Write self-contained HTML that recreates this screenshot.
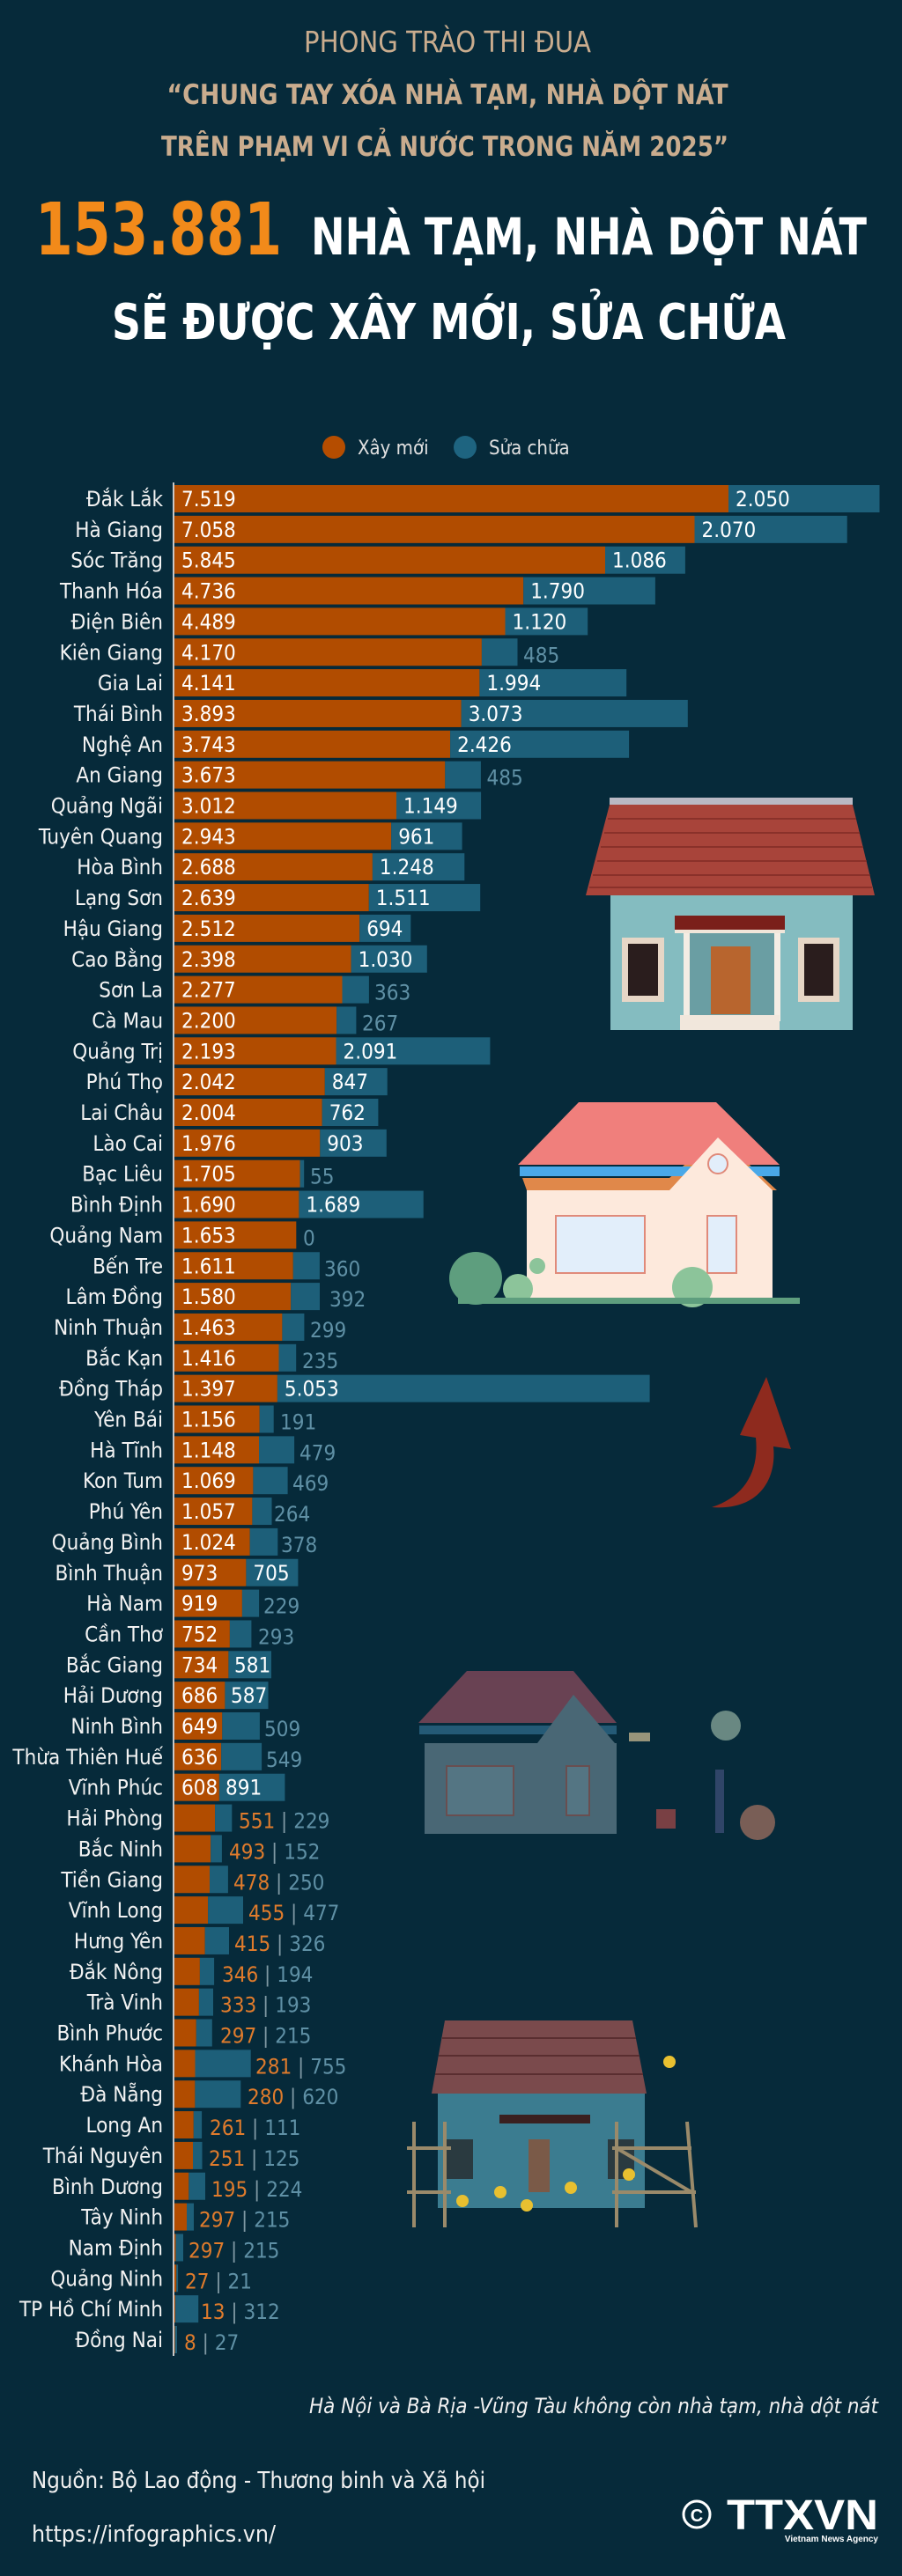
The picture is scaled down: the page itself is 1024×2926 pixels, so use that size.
<!DOCTYPE html>
<html><head><meta charset="utf-8">
<style>
html,body{margin:0;padding:0;background:#062a3a;}
svg{display:block}
.p{font-family:"Liberation Sans Narrow","DejaVu Sans Condensed","Liberation Sans",sans-serif;font-size:24px;fill:#f2f2f2;text-anchor:end}
.w{font-family:"Liberation Sans Narrow","DejaVu Sans Condensed","Liberation Sans",sans-serif;font-size:24px;fill:#ffffff}
.to{font-family:"Liberation Sans Narrow","DejaVu Sans Condensed","Liberation Sans",sans-serif;font-size:24px;fill:#5f90a5}
.ob{font-family:"Liberation Sans Narrow","DejaVu Sans Condensed","Liberation Sans",sans-serif;font-size:24px;fill:#df7b2c}
.sep{fill:#7f98a3}
.tb{fill:#5f90a5}
.o{fill:#b14c00}
.t{fill:#1d5f79}
.h{font-family:"Liberation Sans Narrow","DejaVu Sans Condensed","Liberation Sans",sans-serif}
</style></head>
<body>
<svg width="1024" height="2926" viewBox="0 0 1024 2926" xmlns="http://www.w3.org/2000/svg">
<rect width="1024" height="2926" fill="#062a3a"/>

<!-- Header -->
<text class="h" x="508" y="59" text-anchor="middle" font-size="33" fill="#c9ac8e" textLength="326" lengthAdjust="spacingAndGlyphs">PHONG TRÀO THI ĐUA</text>
<text class="h" x="508" y="118" text-anchor="middle" font-size="31" font-weight="bold" fill="#c9ac8e" textLength="637" lengthAdjust="spacingAndGlyphs">“CHUNG TAY XÓA NHÀ TẠM, NHÀ DỘT NÁT</text>
<text class="h" x="505" y="177" text-anchor="middle" font-size="31" font-weight="bold" fill="#c9ac8e" textLength="644" lengthAdjust="spacingAndGlyphs">TRÊN PHẠM VI CẢ NƯỚC TRONG NĂM 2025”</text>
<text class="h" x="40" y="289" font-size="82" font-weight="bold" fill="#f28a1a" textLength="280" lengthAdjust="spacingAndGlyphs">153.881</text>
<text class="h" x="353" y="289" font-size="58" font-weight="bold" fill="#ffffff" textLength="631" lengthAdjust="spacingAndGlyphs">NHÀ TẠM, NHÀ DỘT NÁT</text>
<text class="h" x="127" y="385" font-size="56" font-weight="bold" fill="#ffffff" textLength="765" lengthAdjust="spacingAndGlyphs">SẼ ĐƯỢC XÂY MỚI, SỬA CHỮA</text>

<!-- Legend -->
<circle cx="379" cy="508" r="13" fill="#b54d00"/>
<text class="h" x="406" y="516" font-size="22" fill="#e0e0e0">Xây mới</text>
<circle cx="528" cy="508" r="13" fill="#1e6480"/>
<text class="h" x="555" y="516" font-size="22" fill="#e0e0e0">Sửa chữa</text>

<!-- Illustrations -->
<!-- House 1 -->
<g>
<rect x="692" y="906" width="276" height="8" fill="#b9b9c4"/>
<polygon points="692,914 968,914 993,1017 665,1017" fill="#a8443a"/>
<g stroke="#7e2a24" stroke-width="2" opacity="0.7">
<line x1="690" y1="930" x2="972" y2="930"/><line x1="686" y1="946" x2="976" y2="946"/>
<line x1="682" y1="962" x2="980" y2="962"/><line x1="678" y1="978" x2="984" y2="978"/>
<line x1="673" y1="994" x2="988" y2="994"/><line x1="669" y1="1008" x2="990" y2="1008"/>
</g>
<rect x="693" y="1017" width="275" height="153" fill="#84bcc0"/>
<rect x="706" y="1065" width="48" height="73" fill="#e6d6c6"/>
<rect x="713" y="1072" width="34" height="59" fill="#2a1d1d"/>
<rect x="906" y="1065" width="47" height="73" fill="#e6d6c6"/>
<rect x="913" y="1072" width="33" height="59" fill="#2a1d1d"/>
<rect x="780" y="1060" width="100" height="100" fill="#6a9ea3"/>
<rect x="766" y="1040" width="125" height="16" fill="#7a1f1a"/>
<rect x="766" y="1056" width="125" height="4" fill="#f0e6da"/>
<rect x="776" y="1060" width="7" height="100" fill="#f4ede4"/>
<rect x="879" y="1060" width="7" height="100" fill="#f4ede4"/>
<rect x="807" y="1075" width="45" height="77" fill="#b8652e"/>
<rect x="772" y="1153" width="113" height="17" fill="#f1e7dc"/>
</g>
<!-- House 2 -->
<g>
<polygon points="593,1338 760,1338 815,1290 882,1352 598,1352" fill="#e0884a"/>
<polygon points="590,1325 885,1325 885,1336 590,1336" fill="#4aa8e8"/>
<polygon points="588,1323 657,1252 813,1252 885,1323" fill="#f07f7c"/>
<polygon points="760,1352 815,1292 877,1352" fill="#fde9dc"/>
<rect x="598" y="1352" width="279" height="122" fill="#fde9dc"/>
<rect x="631" y="1381" width="101" height="65" fill="#e2eefa" stroke="#e08a7a" stroke-width="2"/>
<rect x="803" y="1381" width="33" height="65" fill="#e2eefa" stroke="#e08a7a" stroke-width="2"/>
<circle cx="815" cy="1322" r="11" fill="#e2eefa" stroke="#e08a7a" stroke-width="2"/>
<circle cx="540" cy="1452" r="30" fill="#5e9e7e"/>
<circle cx="588" cy="1464" r="17" fill="#8cc49a"/>
<circle cx="786" cy="1462" r="23" fill="#8cc49a"/>
<circle cx="610" cy="1438" r="9" fill="#8cc49a"/>
<rect x="520" y="1474" width="388" height="7" fill="#5e9e7e"/>
</g>
<!-- Arrow -->
<path d="M808,1712 C860,1716 882,1682 878,1643 L898,1646 L870,1564 L840,1630 L858,1633 C862,1672 845,1700 808,1712 Z" fill="#8e2a1e"/>
<!-- House 3 (muted) -->
<g opacity="0.75">
<polygon points="476,1960 700,1960 700,1970 476,1970" fill="#2f6a8a"/>
<polygon points="475,1957 530,1898 651,1898 700,1957" fill="#8a4a5c"/>
<polygon points="610,1980 651,1925 698,1980" fill="#607c89"/>
<rect x="482" y="1980" width="218" height="103" fill="#607c89"/>
<rect x="507" y="2006" width="76" height="56" fill="#6f8e9c" stroke="#8a5a58" stroke-width="2"/>
<rect x="643" y="2006" width="26" height="56" fill="#6f8e9c" stroke="#8a5a58" stroke-width="2"/>
<circle cx="824" cy="1960" r="17" fill="#8aa89a"/>
<rect x="714" y="1968" width="24" height="10" fill="#c8b890"/>
<rect x="812" y="2010" width="10" height="72" fill="#3e4e78"/>
<circle cx="860" cy="2070" r="20" fill="#a07060"/>
<rect x="745" y="2055" width="22" height="22" fill="#a04848"/>
</g>
<!-- House 4 -->
<g>
<polygon points="505,2295 718,2295 734,2378 490,2378" fill="#7a4a4c"/>
<g stroke="#5a2e30" stroke-width="2"><line x1="502" y1="2315" x2="722" y2="2315"/><line x1="498" y1="2335" x2="726" y2="2335"/><line x1="494" y1="2356" x2="730" y2="2356"/></g>
<rect x="497" y="2378" width="235" height="130" fill="#3b7c90"/>
<rect x="567" y="2402" width="103" height="10" fill="#3a2020"/>
<rect x="600" y="2430" width="24" height="60" fill="#7a5a48"/>
<rect x="507" y="2430" width="30" height="45" fill="#2a3a40"/>
<rect x="690" y="2430" width="30" height="45" fill="#2a3a40"/>
<g stroke="#9a8a6a" stroke-width="4" fill="none">
<line x1="470" y1="2410" x2="470" y2="2530"/><line x1="505" y1="2410" x2="505" y2="2530"/>
<line x1="462" y1="2440" x2="512" y2="2440"/><line x1="462" y1="2490" x2="512" y2="2490"/>
<line x1="700" y1="2410" x2="700" y2="2530"/><line x1="780" y1="2410" x2="790" y2="2530"/>
<line x1="695" y1="2440" x2="785" y2="2440"/><line x1="695" y1="2490" x2="790" y2="2490"/>
<line x1="700" y1="2440" x2="785" y2="2490"/>
</g>
<g fill="#e8c030"><circle cx="525" cy="2500" r="7"/><circle cx="568" cy="2490" r="7"/><circle cx="598" cy="2505" r="7"/><circle cx="648" cy="2485" r="7"/><circle cx="714" cy="2470" r="7"/><circle cx="760" cy="2342" r="7"/></g>
</g>

<!-- Axis -->
<line x1="197" y1="548" x2="197" y2="2676" stroke="#c8c8c8" stroke-width="2"/>

<!-- Rows -->
<g transform="translate(0,551)"><text class="p" x="185" y="24">Đắk Lắk</text><rect class="o" x="198" width="629" height="31"/><rect class="t" x="827" width="171.5" height="31"/><text class="w" x="206" y="24">7.519</text><text class="w" x="835" y="24">2.050</text></g>
<g transform="translate(0,585.85)"><text class="p" x="185" y="24">Hà Giang</text><rect class="o" x="198" width="590.5" height="31"/><rect class="t" x="788.5" width="173.2" height="31"/><text class="w" x="206" y="24">7.058</text><text class="w" x="796.5" y="24">2.070</text></g>
<g transform="translate(0,620.7)"><text class="p" x="185" y="24">Sóc Trăng</text><rect class="o" x="198" width="489" height="31"/><rect class="t" x="687" width="90.9" height="31"/><text class="w" x="206" y="24">5.845</text><text class="w" x="695" y="24">1.086</text></g>
<g transform="translate(0,655.55)"><text class="p" x="185" y="24">Thanh Hóa</text><rect class="o" x="198" width="396.2" height="31"/><rect class="t" x="594.2" width="149.7" height="31"/><text class="w" x="206" y="24">4.736</text><text class="w" x="602.2" y="24">1.790</text></g>
<g transform="translate(0,690.4)"><text class="p" x="185" y="24">Điện Biên</text><rect class="o" x="198" width="375.5" height="31"/><rect class="t" x="573.5" width="93.7" height="31"/><text class="w" x="206" y="24">4.489</text><text class="w" x="581.5" y="24">1.120</text></g>
<g transform="translate(0,725.25)"><text class="p" x="185" y="24">Kiên Giang</text><rect class="o" x="198" width="348.9" height="31"/><rect class="t" x="546.9" width="40.6" height="31"/><text class="w" x="206" y="24">4.170</text><text class="to" x="594" y="27">485</text></g>
<g transform="translate(0,760.1)"><text class="p" x="185" y="24">Gia Lai</text><rect class="o" x="198" width="346.4" height="31"/><rect class="t" x="544.4" width="166.8" height="31"/><text class="w" x="206" y="24">4.141</text><text class="w" x="552.4" y="24">1.994</text></g>
<g transform="translate(0,794.95)"><text class="p" x="185" y="24">Thái Bình</text><rect class="o" x="198" width="325.7" height="31"/><rect class="t" x="523.7" width="257.1" height="31"/><text class="w" x="206" y="24">3.893</text><text class="w" x="531.7" y="24">3.073</text></g>
<g transform="translate(0,829.8)"><text class="p" x="185" y="24">Nghệ An</text><rect class="o" x="198" width="313.1" height="31"/><rect class="t" x="511.1" width="203" height="31"/><text class="w" x="206" y="24">3.743</text><text class="w" x="519.1" y="24">2.426</text></g>
<g transform="translate(0,864.65)"><text class="p" x="185" y="24">An Giang</text><rect class="o" x="198" width="307.3" height="31"/><rect class="t" x="505.3" width="40.6" height="31"/><text class="w" x="206" y="24">3.673</text><text class="to" x="552.5" y="27">485</text></g>
<g transform="translate(0,899.5)"><text class="p" x="185" y="24">Quảng Ngãi</text><rect class="o" x="198" width="252" height="31"/><rect class="t" x="450" width="96.1" height="31"/><text class="w" x="206" y="24">3.012</text><text class="w" x="458" y="24">1.149</text></g>
<g transform="translate(0,934.35)"><text class="p" x="185" y="24">Tuyên Quang</text><rect class="o" x="198" width="246.2" height="31"/><rect class="t" x="444.2" width="80.4" height="31"/><text class="w" x="206" y="24">2.943</text><text class="w" x="452.2" y="24">961</text></g>
<g transform="translate(0,969.2)"><text class="p" x="185" y="24">Hòa Bình</text><rect class="o" x="198" width="224.9" height="31"/><rect class="t" x="422.9" width="104.4" height="31"/><text class="w" x="206" y="24">2.688</text><text class="w" x="430.9" y="24">1.248</text></g>
<g transform="translate(0,1004.05)"><text class="p" x="185" y="24">Lạng Sơn</text><rect class="o" x="198" width="220.8" height="31"/><rect class="t" x="418.8" width="126.4" height="31"/><text class="w" x="206" y="24">2.639</text><text class="w" x="426.8" y="24">1.511</text></g>
<g transform="translate(0,1038.9)"><text class="p" x="185" y="24">Hậu Giang</text><rect class="o" x="198" width="210.2" height="31"/><rect class="t" x="408.2" width="58.1" height="31"/><text class="w" x="206" y="24">2.512</text><text class="w" x="416.2" y="24">694</text></g>
<g transform="translate(0,1073.75)"><text class="p" x="185" y="24">Cao Bằng</text><rect class="o" x="198" width="200.6" height="31"/><rect class="t" x="398.6" width="86.2" height="31"/><text class="w" x="206" y="24">2.398</text><text class="w" x="406.6" y="24">1.030</text></g>
<g transform="translate(0,1108.6)"><text class="p" x="185" y="24">Sơn La</text><rect class="o" x="198" width="190.5" height="31"/><rect class="t" x="388.5" width="30.4" height="31"/><text class="w" x="206" y="24">2.277</text><text class="to" x="425" y="27">363</text></g>
<g transform="translate(0,1143.45)"><text class="p" x="185" y="24">Cà Mau</text><rect class="o" x="198" width="184.1" height="31"/><rect class="t" x="382.1" width="22.3" height="31"/><text class="w" x="206" y="24">2.200</text><text class="to" x="411" y="27">267</text></g>
<g transform="translate(0,1178.3)"><text class="p" x="185" y="24">Quảng Trị</text><rect class="o" x="198" width="183.5" height="31"/><rect class="t" x="381.5" width="174.9" height="31"/><text class="w" x="206" y="24">2.193</text><text class="w" x="389.5" y="24">2.091</text></g>
<g transform="translate(0,1213.15)"><text class="p" x="185" y="24">Phú Thọ</text><rect class="o" x="198" width="170.8" height="31"/><rect class="t" x="368.8" width="70.9" height="31"/><text class="w" x="206" y="24">2.042</text><text class="w" x="376.8" y="24">847</text></g>
<g transform="translate(0,1248)"><text class="p" x="185" y="24">Lai Châu</text><rect class="o" x="198" width="167.7" height="31"/><rect class="t" x="365.7" width="63.7" height="31"/><text class="w" x="206" y="24">2.004</text><text class="w" x="373.7" y="24">762</text></g>
<g transform="translate(0,1282.85)"><text class="p" x="185" y="24">Lào Cai</text><rect class="o" x="198" width="165.3" height="31"/><rect class="t" x="363.3" width="75.5" height="31"/><text class="w" x="206" y="24">1.976</text><text class="w" x="371.3" y="24">903</text></g>
<g transform="translate(0,1317.7)"><text class="p" x="185" y="24">Bạc Liêu</text><rect class="o" x="198" width="142.6" height="31"/><rect class="t" x="340.6" width="4.6" height="31"/><text class="w" x="206" y="24">1.705</text><text class="to" x="352" y="27">55</text></g>
<g transform="translate(0,1352.55)"><text class="p" x="185" y="24">Bình Định</text><rect class="o" x="198" width="141.4" height="31"/><rect class="t" x="339.4" width="141.3" height="31"/><text class="w" x="206" y="24">1.690</text><text class="w" x="347.4" y="24">1.689</text></g>
<g transform="translate(0,1387.4)"><text class="p" x="185" y="24">Quảng Nam</text><rect class="o" x="198" width="138.3" height="31"/><text class="w" x="206" y="24">1.653</text><text class="to" x="344" y="27">0</text></g>
<g transform="translate(0,1422.25)"><text class="p" x="185" y="24">Bến Tre</text><rect class="o" x="198" width="134.8" height="31"/><rect class="t" x="332.8" width="30.1" height="31"/><text class="w" x="206" y="24">1.611</text><text class="to" x="368" y="27">360</text></g>
<g transform="translate(0,1457.1)"><text class="p" x="185" y="24">Lâm Đồng</text><rect class="o" x="198" width="132.2" height="31"/><rect class="t" x="330.2" width="32.8" height="31"/><text class="w" x="206" y="24">1.580</text><text class="to" x="374" y="27">392</text></g>
<g transform="translate(0,1491.95)"><text class="p" x="185" y="24">Ninh Thuận</text><rect class="o" x="198" width="122.4" height="31"/><rect class="t" x="320.4" width="25" height="31"/><text class="w" x="206" y="24">1.463</text><text class="to" x="352" y="27">299</text></g>
<g transform="translate(0,1526.8)"><text class="p" x="185" y="24">Bắc Kạn</text><rect class="o" x="198" width="118.5" height="31"/><rect class="t" x="316.5" width="19.7" height="31"/><text class="w" x="206" y="24">1.416</text><text class="to" x="343" y="27">235</text></g>
<g transform="translate(0,1561.65)"><text class="p" x="185" y="24">Đồng Tháp</text><rect class="o" x="198" width="116.9" height="31"/><rect class="t" x="314.9" width="422.7" height="31"/><text class="w" x="206" y="24">1.397</text><text class="w" x="322.9" y="24">5.053</text></g>
<g transform="translate(0,1596.5)"><text class="p" x="185" y="24">Yên Bái</text><rect class="o" x="198" width="96.7" height="31"/><rect class="t" x="294.7" width="16" height="31"/><text class="w" x="206" y="24">1.156</text><text class="to" x="318" y="27">191</text></g>
<g transform="translate(0,1631.35)"><text class="p" x="185" y="24">Hà Tĩnh</text><rect class="o" x="198" width="96" height="31"/><rect class="t" x="294" width="40.1" height="31"/><text class="w" x="206" y="24">1.148</text><text class="to" x="340" y="27">479</text></g>
<g transform="translate(0,1666.2)"><text class="p" x="185" y="24">Kon Tum</text><rect class="o" x="198" width="89.4" height="31"/><rect class="t" x="287.4" width="39.2" height="31"/><text class="w" x="206" y="24">1.069</text><text class="to" x="332" y="27">469</text></g>
<g transform="translate(0,1701.05)"><text class="p" x="185" y="24">Phú Yên</text><rect class="o" x="198" width="88.4" height="31"/><rect class="t" x="286.4" width="22.1" height="31"/><text class="w" x="206" y="24">1.057</text><text class="to" x="311" y="27">264</text></g>
<g transform="translate(0,1735.9)"><text class="p" x="185" y="24">Quảng Bình</text><rect class="o" x="198" width="85.7" height="31"/><rect class="t" x="283.7" width="31.6" height="31"/><text class="w" x="206" y="24">1.024</text><text class="to" x="319" y="27">378</text></g>
<g transform="translate(0,1770.75)"><text class="p" x="185" y="24">Bình Thuận</text><rect class="o" x="198" width="81.4" height="31"/><rect class="t" x="279.4" width="59" height="31"/><text class="w" x="206" y="24">973</text><text class="w" x="287.4" y="24">705</text></g>
<g transform="translate(0,1805.6)"><text class="p" x="185" y="24">Hà Nam</text><rect class="o" x="198" width="76.9" height="31"/><rect class="t" x="274.9" width="19.2" height="31"/><text class="w" x="206" y="24">919</text><text class="to" x="299" y="27">229</text></g>
<g transform="translate(0,1840.45)"><text class="p" x="185" y="24">Cần Thơ</text><rect class="o" x="198" width="62.9" height="31"/><rect class="t" x="260.9" width="24.5" height="31"/><text class="w" x="206" y="24">752</text><text class="to" x="293" y="27">293</text></g>
<g transform="translate(0,1875.3)"><text class="p" x="185" y="24">Bắc Giang</text><rect class="o" x="198" width="61.4" height="31"/><rect class="t" x="259.4" width="48.6" height="31"/><text class="w" x="206" y="24">734</text><text class="w" x="266" y="24">581</text></g>
<g transform="translate(0,1910.15)"><text class="p" x="185" y="24">Hải Dương</text><rect class="o" x="198" width="57.4" height="31"/><rect class="t" x="255.4" width="49.1" height="31"/><text class="w" x="206" y="24">686</text><text class="w" x="262" y="24">587</text></g>
<g transform="translate(0,1945)"><text class="p" x="185" y="24">Ninh Bình</text><rect class="o" x="198" width="54.3" height="31"/><rect class="t" x="252.3" width="42.6" height="31"/><text class="w" x="206" y="24">649</text><text class="to" x="300" y="27">509</text></g>
<g transform="translate(0,1979.85)"><text class="p" x="185" y="24">Thừa Thiên Huế</text><rect class="o" x="198" width="53.2" height="31"/><rect class="t" x="251.2" width="45.9" height="31"/><text class="w" x="206" y="24">636</text><text class="to" x="302" y="27">549</text></g>
<g transform="translate(0,2014.7)"><text class="p" x="185" y="24">Vĩnh Phúc</text><rect class="o" x="198" width="50.9" height="31"/><rect class="t" x="248.9" width="74.5" height="31"/><text class="w" x="206" y="24">608</text><text class="w" x="256" y="24">891</text></g>
<g transform="translate(0,2049.55)"><text class="p" x="185" y="24">Hải Phòng</text><rect class="o" x="198" width="46.1" height="31"/><rect class="t" x="244.1" width="19.2" height="31"/><text class="ob" x="271" y="27">551<tspan class="sep"> | </tspan><tspan class="tb">229</tspan></text></g>
<g transform="translate(0,2084.4)"><text class="p" x="185" y="24">Bắc Ninh</text><rect class="o" x="198" width="41.2" height="31"/><rect class="t" x="239.2" width="12.7" height="31"/><text class="ob" x="260" y="27">493<tspan class="sep"> | </tspan><tspan class="tb">152</tspan></text></g>
<g transform="translate(0,2119.25)"><text class="p" x="185" y="24">Tiền Giang</text><rect class="o" x="198" width="40" height="31"/><rect class="t" x="238" width="20.9" height="31"/><text class="ob" x="265" y="27">478<tspan class="sep"> | </tspan><tspan class="tb">250</tspan></text></g>
<g transform="translate(0,2154.1)"><text class="p" x="185" y="24">Vĩnh Long</text><rect class="o" x="198" width="38.1" height="31"/><rect class="t" x="236.1" width="39.9" height="31"/><text class="ob" x="282" y="27">455<tspan class="sep"> | </tspan><tspan class="tb">477</tspan></text></g>
<g transform="translate(0,2188.95)"><text class="p" x="185" y="24">Hưng Yên</text><rect class="o" x="198" width="34.7" height="31"/><rect class="t" x="232.7" width="27.3" height="31"/><text class="ob" x="266" y="27">415<tspan class="sep"> | </tspan><tspan class="tb">326</tspan></text></g>
<g transform="translate(0,2223.8)"><text class="p" x="185" y="24">Đắk Nông</text><rect class="o" x="198" width="28.9" height="31"/><rect class="t" x="226.9" width="16.2" height="31"/><text class="ob" x="252" y="27">346<tspan class="sep"> | </tspan><tspan class="tb">194</tspan></text></g>
<g transform="translate(0,2258.65)"><text class="p" x="185" y="24">Trà Vinh</text><rect class="o" x="198" width="27.9" height="31"/><rect class="t" x="225.9" width="16.1" height="31"/><text class="ob" x="250" y="27">333<tspan class="sep"> | </tspan><tspan class="tb">193</tspan></text></g>
<g transform="translate(0,2293.5)"><text class="p" x="185" y="24">Bình Phước</text><rect class="o" x="198" width="24.8" height="31"/><rect class="t" x="222.8" width="18" height="31"/><text class="ob" x="250" y="27">297<tspan class="sep"> | </tspan><tspan class="tb">215</tspan></text></g>
<g transform="translate(0,2328.35)"><text class="p" x="185" y="24">Khánh Hòa</text><rect class="o" x="198" width="23.5" height="31"/><rect class="t" x="221.5" width="63.2" height="31"/><text class="ob" x="290" y="27">281<tspan class="sep"> | </tspan><tspan class="tb">755</tspan></text></g>
<g transform="translate(0,2363.2)"><text class="p" x="185" y="24">Đà Nẵng</text><rect class="o" x="198" width="23.4" height="31"/><rect class="t" x="221.4" width="51.9" height="31"/><text class="ob" x="281" y="27">280<tspan class="sep"> | </tspan><tspan class="tb">620</tspan></text></g>
<g transform="translate(0,2398.05)"><text class="p" x="185" y="24">Long An</text><rect class="o" x="198" width="21.8" height="31"/><rect class="t" x="219.8" width="9.3" height="31"/><text class="ob" x="238" y="27">261<tspan class="sep"> | </tspan><tspan class="tb">111</tspan></text></g>
<g transform="translate(0,2432.9)"><text class="p" x="185" y="24">Thái Nguyên</text><rect class="o" x="198" width="21" height="31"/><rect class="t" x="219" width="10.5" height="31"/><text class="ob" x="237" y="27">251<tspan class="sep"> | </tspan><tspan class="tb">125</tspan></text></g>
<g transform="translate(0,2467.75)"><text class="p" x="185" y="24">Bình Dương</text><rect class="o" x="198" width="16.3" height="31"/><rect class="t" x="214.3" width="18.7" height="31"/><text class="ob" x="240" y="27">195<tspan class="sep"> | </tspan><tspan class="tb">224</tspan></text></g>
<g transform="translate(0,2502.6)"><text class="p" x="185" y="24">Tây Ninh</text><rect class="o" x="198" width="14" height="31"/><rect class="t" x="212" width="8" height="31"/><text class="ob" x="226" y="27">297<tspan class="sep"> | </tspan><tspan class="tb">215</tspan></text></g>
<g transform="translate(0,2537.45)"><text class="p" x="185" y="24">Nam Định</text><rect class="o" x="198" width="1.5" height="31"/><rect class="t" x="199.5" width="8.5" height="31"/><text class="ob" x="214" y="27">297<tspan class="sep"> | </tspan><tspan class="tb">215</tspan></text></g>
<g transform="translate(0,2572.3)"><text class="p" x="185" y="24">Quảng Ninh</text><rect class="o" x="198" width="2.3" height="31"/><rect class="t" x="200.3" width="1.8" height="31"/><text class="ob" x="210" y="27">27<tspan class="sep"> | </tspan><tspan class="tb">21</tspan></text></g>
<g transform="translate(0,2607.15)"><text class="p" x="185" y="24">TP Hồ Chí Minh</text><rect class="o" x="198" width="1.1" height="31"/><rect class="t" x="199.1" width="26.1" height="31"/><text class="ob" x="228" y="27">13<tspan class="sep"> | </tspan><tspan class="tb">312</tspan></text></g>
<g transform="translate(0,2642)"><text class="p" x="185" y="24">Đồng Nai</text><rect class="o" x="198" width="0.7" height="31"/><rect class="t" x="198.7" width="2.3" height="31"/><text class="ob" x="209" y="27">8<tspan class="sep"> | </tspan><tspan class="tb">27</tspan></text></g>

<!-- Footer -->
<text class="h" x="997" y="2741" text-anchor="end" font-size="24" font-style="italic" fill="#f0f0f0" textLength="646" lengthAdjust="spacingAndGlyphs">Hà Nội và Bà Rịa -Vũng Tàu không còn nhà tạm, nhà dột nát</text>
<text class="h" x="36" y="2826" font-size="26" fill="#f0f0f0" textLength="515" lengthAdjust="spacingAndGlyphs">Nguồn: Bộ Lao động - Thương binh và Xã hội</text>
<text class="h" x="36" y="2887" font-size="26" fill="#f0f0f0" textLength="277" lengthAdjust="spacingAndGlyphs">https://infographics.vn/</text>
<circle cx="791" cy="2856" r="15" fill="none" stroke="#ffffff" stroke-width="3"/>
<text x="791" y="2864" text-anchor="middle" font-family="Liberation Sans, sans-serif" font-size="20" font-weight="bold" fill="#ffffff">C</text>
<text x="825" y="2873" font-family="Liberation Sans, sans-serif" font-size="48" font-weight="bold" fill="#ffffff" textLength="172" lengthAdjust="spacingAndGlyphs">TTXVN</text>
<text x="997" y="2887" text-anchor="end" font-family="Liberation Sans, sans-serif" font-size="10" font-weight="bold" fill="#ffffff">Vietnam News Agency</text>
</svg>
</body></html>
